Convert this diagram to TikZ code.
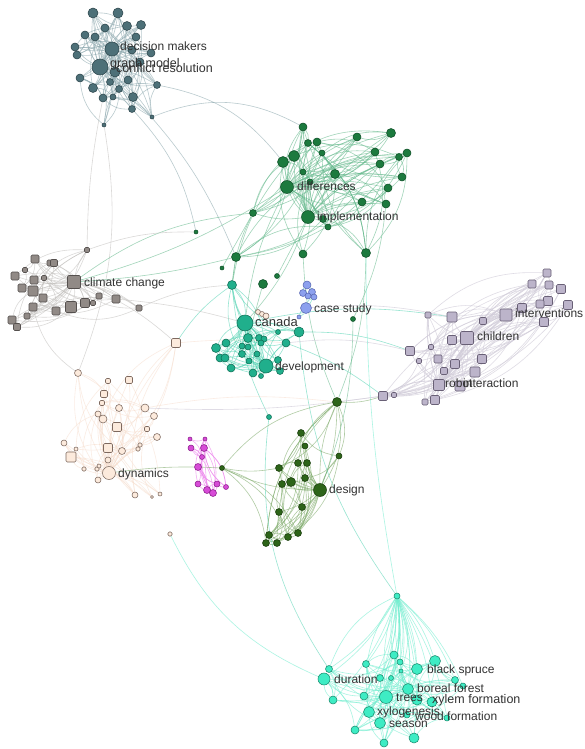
\documentclass[tikz,border=0pt]{standalone}
\usepackage{fontspec}
\setmainfont{Liberation Sans}
\usetikzlibrary{backgrounds}
\pgfdeclarelayer{bottom}
\pgfsetlayers{bottom,background,main}
\definecolor{topF}{RGB}{77,112,120}\definecolor{topD}{RGB}{45,70,76}\definecolor{topE}{RGB}{140,168,174}
\definecolor{grnF}{RGB}{28,122,62}\definecolor{grnD}{RGB}{15,80,40}\definecolor{grnE}{RGB}{100,185,140}
\definecolor{gryF}{RGB}{145,138,134}\definecolor{gryD}{RGB}{85,80,78}\definecolor{gryE}{RGB}{195,193,190}
\definecolor{tealF}{RGB}{32,175,140}\definecolor{tealD}{RGB}{15,110,85}\definecolor{tealE}{RGB}{85,212,180}
\definecolor{bluF}{RGB}{140,160,238}\definecolor{bluD}{RGB}{90,105,180}
\definecolor{lavF}{RGB}{188,180,202}\definecolor{lavD}{RGB}{105,96,118}\definecolor{lavE}{RGB}{210,205,218}
\definecolor{begF}{RGB}{252,234,220}\definecolor{begD}{RGB}{125,105,95}\definecolor{begE}{RGB}{246,218,200}
\definecolor{magF}{RGB}{215,75,215}\definecolor{magD}{RGB}{140,30,140}\definecolor{magE}{RGB}{238,140,238}
\definecolor{dgnF}{RGB}{45,100,25}\definecolor{dgnD}{RGB}{25,60,12}\definecolor{dgnE}{RGB}{125,170,105}
\definecolor{aqF}{RGB}{62,236,196}\definecolor{aqD}{RGB}{25,140,110}\definecolor{aqE}{RGB}{115,238,208}
\definecolor{labC}{RGB}{50,50,50}
\tikzset{
 pt/.style={circle,inner sep=0pt,line width=0.55pt},
 sq/.style={rectangle,rounded corners=1.2pt,inner sep=0pt,line width=0.55pt},
 topN/.style={pt,fill=topF,draw=topD},
 grnN/.style={pt,fill=grnF,draw=grnD},
 gryN/.style={sq,fill=gryF,draw=gryD},
 tealN/.style={pt,fill=tealF,draw=tealD},
 bluN/.style={pt,fill=bluF,draw=bluD},
 lavN/.style={sq,fill=lavF,draw=lavD},
 begC/.style={pt,fill=begF,draw=begD},
 begS/.style={sq,fill=begF,draw=begD},
 magN/.style={pt,fill=magF,draw=magD},
 dgnN/.style={pt,fill=dgnF,draw=dgnD},
 aqN/.style={pt,fill=aqF,draw=aqD},
 eT/.style={draw=topE,line width=0.6pt,opacity=0.6},
 eG/.style={draw=grnE,line width=0.6pt,opacity=0.6},
 eL/.style={draw=gryE,line width=0.6pt,opacity=0.6},
 eC/.style={draw=tealE,line width=0.6pt,opacity=0.6},
 eR/.style={draw=lavE,line width=0.6pt,opacity=0.7},
 eB/.style={draw=begE,line width=0.6pt,opacity=0.5},
 eM/.style={draw=magE,line width=0.6pt,opacity=0.7},
 eD/.style={draw=dgnE,line width=0.6pt,opacity=0.6},
 eA/.style={draw=aqE,line width=0.6pt,opacity=0.6},
 lab/.style={anchor=base west,text=labC,inner sep=0pt,font=\fontsize{12}{12}\selectfont},
}
\newcommand\mkedges[4]{\foreach \i in {1,...,#2}{\foreach \k in {1,...,#3}{\pgfmathrandominteger{\j}{1}{#2}\ifnum\j=\i\relax\else\draw[#4] (#1\i) to[bend left=22] (#1\j);\fi}}}
\newcommand\mkhub[4]{\foreach \i in {1,...,#2}{\ifnum\i=#3\relax\else\draw[#4] (#1\i) to[bend right=12] (#1#3);\fi}}
\begin{document}
\begin{tikzpicture}[x=1pt,y=-1pt]
\begin{pgfonlayer}{bottom}
\fill[white] (0,0) rectangle (584,749);
\end{pgfonlayer}
\useasboundingbox (0,0) rectangle (584,749);
\pgfmathsetseed{11}
% top cluster
\foreach \i/\x/\y/\r in {1/93/13/5,2/118/13/5,3/105/28/4,4/127/26/4.5,5/141/25/4.5,6/85/35/4,7/95/37/4,8/136/37/4,9/75/47/4,10/112/49/7,11/77/55/4,12/132/50/4,13/151/53/4,14/140/62/4,15/100/67/8,16/115/72/5,17/80/78/4,18/93/88/4.5,19/110/82/3.5,20/128/80/4,21/119/89/3.5,22/103/98/4,23/113/97/3,24/133/97/4.5,25/157/85/3.5,26/132/109/3.5,27/152/117/2,28/104/125/2}
  \node[topN,minimum size=2*\r pt] (T\i) at (\x,\y) {};
% green cluster
\foreach \i/\x/\y/\r in {1/303/127/4,2/308/143/3.5,3/317/142/4,4/294/156/5.5,5/283/162/5.5,6/322/153/3,7/303/172/3,8/310/182/3,9/335/174/4.5,10/287/187/6.5,11/357/137/4,12/391/133/4.5,13/375/152/4,14/380/164/4,15/399/157/3.5,16/407/153/4,17/402/177/4,18/388/188/4,19/362/202/4,20/386/204/4,21/253/213/3.5,22/308/217/6.5,23/323/219/3.5,24/328/227/3,25/236/257/4.5,26/303/254/4,27/366/253/4.5,28/196/232/2,29/222/268/2,30/263/284/4.5,31/277/276/2.5,32/353/319/2.5}
  \node[grnN,minimum size=2*\r pt] (G\i) at (\x,\y) {};
% gray cluster
\foreach \i/\x/\y/\r in {1/87/250/2.5,2/35/259/4,3/50/263/3,4/54/263/3.5,5/15/276/4,6/25/270/2.5,7/34/280/4,8/44/278/2.5,9/74/282/6.5,10/22/288/4,11/33/291/5,12/43/298/4,13/33/307/4,14/56/311/4,15/71/307/5.5,16/85/303/4.5,17/93/303/2.5,18/99/296/3,19/116/299/4,20/139/308/3,21/27/316/3,22/12/320/4,23/17/327/3.5}
  \node[gryN,minimum size=2*\r pt] (L\i) at (\x,\y) {};
% canada cluster
\foreach \i/\x/\y/\r in {1/232/285/4.5,2/245/323/8,3/278/332/2.5,4/299/332/5,5/216/348/4.5,6/226/343/4,7/248/338/4.5,8/259/338/3.5,9/264/339/3,10/242/346/3,11/248/347/3,12/261/343/3,13/286/343/4,14/220/358/4,15/225/358/4,16/242/354/3.5,17/257/354/3,18/231/368/4,19/249/361/3,20/266/366/7,21/253/373/4,22/261/376/2.5,23/280/371/3.5,24/278/360/3.5,25/269/417/2.5}
  \node[tealN,minimum size=2*\r pt] (C\i) at (\x,\y) {};
% blue
\foreach \i/\x/\y/\r in {1/307/285/4,2/303/293/3.5,3/312/292/3.5,4/308/296/3,5/314/297/3,6/306/308/5.5,7/299/317/2}
  \node[bluN,minimum size=2*\r pt] (B\i) at (\x,\y) {};
% lavender
\foreach \i/\x/\y/\r in {1/547/273/4,2/532/284/4,3/549/285/4,4/561/289/4.5,5/568/305/4.5,6/548/301/4.5,7/540/304/4,8/522/308/4.5,9/544/322/4.5,10/506/315/6,11/483/321/3.5,12/452/317/5,13/428/315/3,14/467/338/6.5,15/452/340/4.5,16/410/351/4.5,17/431/347/2.5,18/419/361/2.5,19/438/359/4,20/482/359/4.5,21/455/364/4.5,22/444/371/3.5,23/475/372/5,24/439/385/5.5,25/460/386/5,26/383/396/4.5,27/394/395/2.5,28/435/400/4.5,29/425/402/3}
  \node[lavN,minimum size=2*\r pt] (R\i) at (\x,\y) {};
% beige
\foreach \i/\x/\y/\r in {1/176/343/4.5,3/108/381/2.5,4/129/380/3.5,5/104/394/3.5,6/102/403/2.5,12/117/427/4.5,13/147/429/2.5,17/108/448/4.5,19/140/445/2,20/138/449/2,21/71/457/5,23/84/469/2,24/97/469/2,31/170/534/2}
  \node[begS,minimum size=2*\r pt] (D\i) at (\x,\y) {};
\foreach \i/\x/\y/\r in {2/78/373/3.5,7/119/408/3.5,8/145/408/4,9/154/416/3.5,10/98/414/3,11/103/419/4,14/157/437/3.5,15/64/443/3,16/76/449/2,18/122/451/3.5,22/108/460/3,25/99/466/2,26/109/473/6.5,27/98/480/3,28/135/495/3,29/152/497/1.5,30/160/494/2,32/258/312/2.5,33/262/314/2.5,34/266/316/3}
  \node[begC,minimum size=2*\r pt] (D\i) at (\x,\y) {};
% magenta
\foreach \i/\x/\y/\r in {1/190/439/2,2/205/439/2,3/191/448/3,4/204/448/3.5,5/202/457/2.5,6/198/467/3.5,7/198/484/3,8/207/490/3.5,9/213/493/3.5,10/217/484/3,11/226/487/2.5}
  \node[magN,minimum size=2*\r pt] (M\i) at (\x,\y) {};
% design
\foreach \i/\x/\y/\r in {1/337/402/4.5,2/301/433/3.5,3/305/446/3,4/339/456/3,5/298/463/3.5,6/307/463/3.5,7/279/468/3.5,8/222/468/2.5,9/305/478/3.5,10/282/484/3.5,11/291/482/4.5,12/320/490/6.5,13/302/507/3.5,14/279/512/3.5,15/298/533/3.5,16/269/535/3.5,17/288/537/3.5,18/266/543/3.5,19/277/543/3.5}
  \node[dgnN,minimum size=2*\r pt] (E\i) at (\x,\y) {};
% bottom aqua
\foreach \i/\x/\y/\r in {1/397/596/3,2/394/655/4,3/400/662/3,4/366/664/3.5,5/329/669/3.5,6/401/671/2,7/417/669/5.5,8/435/661/5.5,9/324/679/6,10/380/678/3.5,11/391/678/2.5,12/455/680/3.5,13/463/686/3,14/408/689/5.5,15/333/700/4,16/364/696/4,17/386/697/6.5,18/417/700/5,19/432/702/5,20/369/712/5.5,21/407/715/3,22/447/718/3,23/380/723/5.5,24/355/730/4,25/414/738/5,26/384/743/4}
  \node[aqN,minimum size=2*\r pt] (A\i) at (\x,\y) {};
% labels
\node[lab] (l1) at (120,51) {decision makers};
\node[lab,font=\fontsize{12.5}{12}\selectfont] (l2) at (110,68) {graph model};
\node[lab,font=\fontsize{12.5}{12}\selectfont] (l3) at (116,73) {conflict resolution};
\node[lab] (l4) at (297,190) {differences};
\node[lab] (l5) at (317,220) {implementation};
\node[lab] (l6) at (84,286) {climate change};
\node[lab] (l7) at (314,312) {case study};
\node[lab,font=\fontsize{13}{13}\selectfont] (l8) at (255,326) {canada};
\node[lab] (l9) at (275,370) {development};
\node[lab] (l10) at (515,317) {interventions};
\node[lab] (l11) at (477,340) {children};
\node[lab] (l12) at (445,387) {robot};
\node[lab] (l13) at (463,387) {interaction};
\node[lab] (l14) at (118,477) {dynamics};
\node[lab] (l15) at (329,493) {design};
\node[lab] (l16) at (427,673) {black spruce};
\node[lab] (l17) at (334,683) {duration};
\node[lab] (l18) at (417,692) {boreal forest};
\node[lab] (l19) at (396,701) {trees};
\node[lab,font=\fontsize{12.5}{12}\selectfont] (l20) at (432,703) {xylem formation};
\node[lab] (l21) at (377,715) {xylogenesis};
\node[lab] (l22) at (415,720) {wood formation};
\node[lab] (l23) at (389,727) {season};
% edges
\begin{pgfonlayer}{background}
\mkedges{T}{28}{3}{eT}\mkhub{T}{28}{15}{eT}\mkhub{T}{28}{10}{eT}
\mkedges{G}{27}{3}{eG}\mkhub{G}{24}{10}{eG}\mkhub{G}{24}{22}{eG}
\mkedges{L}{23}{2}{eL}\mkhub{L}{23}{9}{eL}
\mkedges{C}{24}{2}{eC}\mkhub{C}{24}{2}{eC}\mkhub{C}{24}{20}{eC}
\mkedges{B}{7}{2}{eC}
\mkedges{R}{29}{3}{eR}\mkhub{R}{29}{14}{eR}\mkhub{R}{29}{24}{eR}
\mkedges{D}{30}{2}{eB}\mkhub{D}{30}{26}{eB}
\mkedges{M}{11}{3}{eM}
\mkedges{E}{19}{3}{eD}\mkhub{E}{19}{12}{eD}
\mkedges{A}{26}{3}{eA}\mkhub{A}{26}{17}{eA}\mkhub{A}{26}{14}{eA}\mkhub{A}{26}{1}{eA}
% inter-cluster
\draw[eT] (T27) to[bend left=25] (G1);
\draw[eT] (T26) to[bend left=15] (G28);
\draw[eT] (T25) to[bend left=20] (G5);
\draw[eT] (T24) to[bend left=10] (G25);
\draw[eL] (T28) to[bend left=15] (D2);
\draw[eL] (T22) to[bend right=5] (L1);
\draw[eG] (G10) to[bend left=8] (L9);
\draw[eG] (G21) to[bend right=15] (L9);
\draw[eG] (G25) to[bend left=5] (L9);
\draw[eG] (G27) to[bend left=10] (E1);
\draw[eG] (G26) to[bend right=10] (E1);
\draw[eG] (G32) to[bend left=10] (E12);
\draw[eG] (G10) to[bend right=10] (C2);
\draw[eG] (G21) to[bend right=10] (C1);
\draw[eG] (G25) to (C1);
\draw[eG] (G30) to (C7);
\draw[eG] (G22) to[bend left=10] (C2);
\draw[eG] (G4) to[bend right=15] (C1);
\draw[eG] (G20) to[bend left=10] (G32);
\draw[eG] (G31) to (G22);
\draw[eG] (G29) to (G21);
\draw[eC] (C1) to[bend right=10] (C25);
\draw[eC] (C25) to[bend right=20] (A5);
\draw[eC] (C4) to[bend right=15] (A1);
\draw[eC] (C4) to[bend left=10] (R16);
\draw[eC] (C13) to[bend left=8] (R26);
\draw[eC] (C2) to[bend left=10] (R12);
\draw[eC] (D1) to[bend left=10] (C1);
\draw[eA] (A1) to[bend left=5] (G27);
\draw[eA] (D31) to[bend right=20] (A9);
\draw[eR] (R16) to[bend right=10] (C13);
\draw[eR] (R26) to (E1);
\draw[eR] (R26) to[bend left=5] (D8);
\draw[eR] (R12) to[bend right=8] (B6);
\draw[eB] (D8) to[bend left=8] (E1);
\draw[eB] (D1) to[bend left=5] (C13);
\draw[eD] (D26) to[bend left=5] (E8);
\draw[eD] (E8) to[bend left=20] (E1);
\draw[eD] (E8) to[bend right=10] (E7);
\draw[eD] (E1) to[bend left=10] (E12);
\draw[eD] (E1) to[bend right=10] (R26);
\draw[eL] (L9) to[bend left=10] (D1);
\draw[eL] (L13) to[bend right=20] (D2);
\draw[eL] (L20) to[bend left=10] (C1);
\draw[eL] (L19) to[bend left=5] (C2);
\draw[eL] (L1) to[bend left=10] (G28);
\draw[eM] (M4) to (M8);
\end{pgfonlayer}
\end{tikzpicture}
\end{document}
